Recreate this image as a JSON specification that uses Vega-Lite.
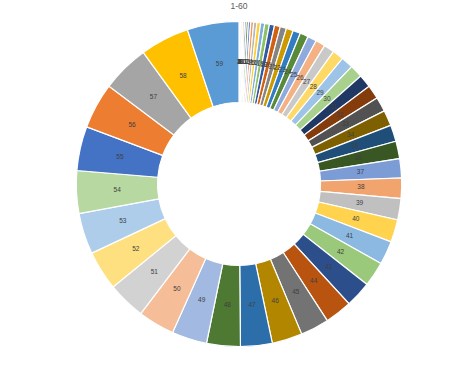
{
  "$schema": "https://vega.github.io/schema/vega-lite/v6.json",
  "autosize": {"type": "none"},
  "padding": {"left": 2, "top": 0, "right": 0, "bottom": 0},
  "width": 474,
  "height": 368,
  "background": "white",
  "title": {"text": "1-60", "font": "Liberation Sans", "fontSize": 8.5, "fontWeight": "normal", "color": "#595959", "anchor": "middle", "baseline": "top", "offset": -10},
  "view": {"stroke": null},
  "data": {"values": [
    {"label": 1, "v": 1}, {"label": 2, "v": 4}, {"label": 3, "v": 9}, {"label": 4, "v": 16}, {"label": 5, "v": 25}, {"label": 6, "v": 36},
    {"label": 7, "v": 49}, {"label": 8, "v": 64}, {"label": 9, "v": 81}, {"label": 10, "v": 100}, {"label": 11, "v": 121}, {"label": 12, "v": 144},
    {"label": 13, "v": 169}, {"label": 14, "v": 196}, {"label": 15, "v": 225}, {"label": 16, "v": 256}, {"label": 17, "v": 289}, {"label": 18, "v": 324},
    {"label": 19, "v": 361}, {"label": 20, "v": 400}, {"label": 21, "v": 441}, {"label": 22, "v": 484}, {"label": 23, "v": 529}, {"label": 24, "v": 576},
    {"label": 25, "v": 625}, {"label": 26, "v": 676}, {"label": 27, "v": 729}, {"label": 28, "v": 784}, {"label": 29, "v": 841}, {"label": 30, "v": 900},
    {"label": 31, "v": 913}, {"label": 32, "v": 963}, {"label": 33, "v": 1024}, {"label": 34, "v": 1087}, {"label": 35, "v": 1152}, {"label": 36, "v": 1218},
    {"label": 37, "v": 1343}, {"label": 38, "v": 1417}, {"label": 39, "v": 1492}, {"label": 40, "v": 1570}, {"label": 41, "v": 1649}, {"label": 42, "v": 1730},
    {"label": 43, "v": 1814}, {"label": 44, "v": 1899}, {"label": 45, "v": 1987}, {"label": 46, "v": 2116}, {"label": 47, "v": 2209}, {"label": 48, "v": 2350},
    {"label": 49, "v": 2449}, {"label": 50, "v": 2550}, {"label": 51, "v": 2653}, {"label": 52, "v": 2758}, {"label": 53, "v": 2865}, {"label": 54, "v": 2974},
    {"label": 55, "v": 3086}, {"label": 56, "v": 3199}, {"label": 57, "v": 3314}, {"label": 58, "v": 3431}, {"label": 59, "v": 3608}
  ]},
  "encoding": {
    "theta": {"field": "v", "type": "quantitative", "stack": true},
    "order": {"field": "label", "type": "quantitative", "sort": "ascending"}
  },
  "layer": [
    {
      "mark": {"type": "arc", "outerRadius": 162.7, "innerRadius": 81.5, "stroke": "white", "strokeWidth": 1.2},
      "encoding": {
        "color": {
          "field": "label", "type": "ordinal", "legend": null,
          "scale": {
            "domain": [1,2,3,4,5,6,7,8,9,10,11,12,13,14,15,16,17,18,19,20,21,22,23,24,25,26,27,28,29,30,31,32,33,34,35,36,37,38,39,40,41,42,43,44,45,46,47,48,49,50,51,52,53,54,55,56,57,58,59],
            "range": [
              "#4472C4","#ED7D31","#A5A5A5","#FFC000","#5B9BD5","#70AD47",
              "#264478","#9E480E","#636363","#997300","#255E91","#43682B",
              "#698ED0","#F1975A","#B7B7B7","#FFCD33","#7CAFDD","#8CC168",
              "#335AA0","#D26012","#848484","#CC9A00","#327DC2","#598A39",
              "#8FAADC","#F4B183","#C9C9C9","#FFD966","#9DC3E6","#A9D18E",
              "#203864","#843C0C","#525252","#7F6000","#1F4E79","#385723",
              "#7C9CD6","#F2A46F","#C0C0C0","#FFD34D","#8CB9E2","#9AC97B",
              "#2C4F8C","#B85410","#737373","#B38600","#2B6EA9","#4E7932",
              "#A2B9E1","#F6BE98","#D2D2D2","#FFE080","#ADCDEA","#B7D8A0",
              "#4472C4","#ED7D31","#A5A5A5","#FFC000","#5B9BD5"
            ]
          }
        }
      }
    },
    {
      "mark": {"type": "text", "radius": 122, "font": "Liberation Sans", "fontSize": 6.5, "color": "#404040"},
      "encoding": {"text": {"field": "label", "type": "nominal"}}
    }
  ]
}
